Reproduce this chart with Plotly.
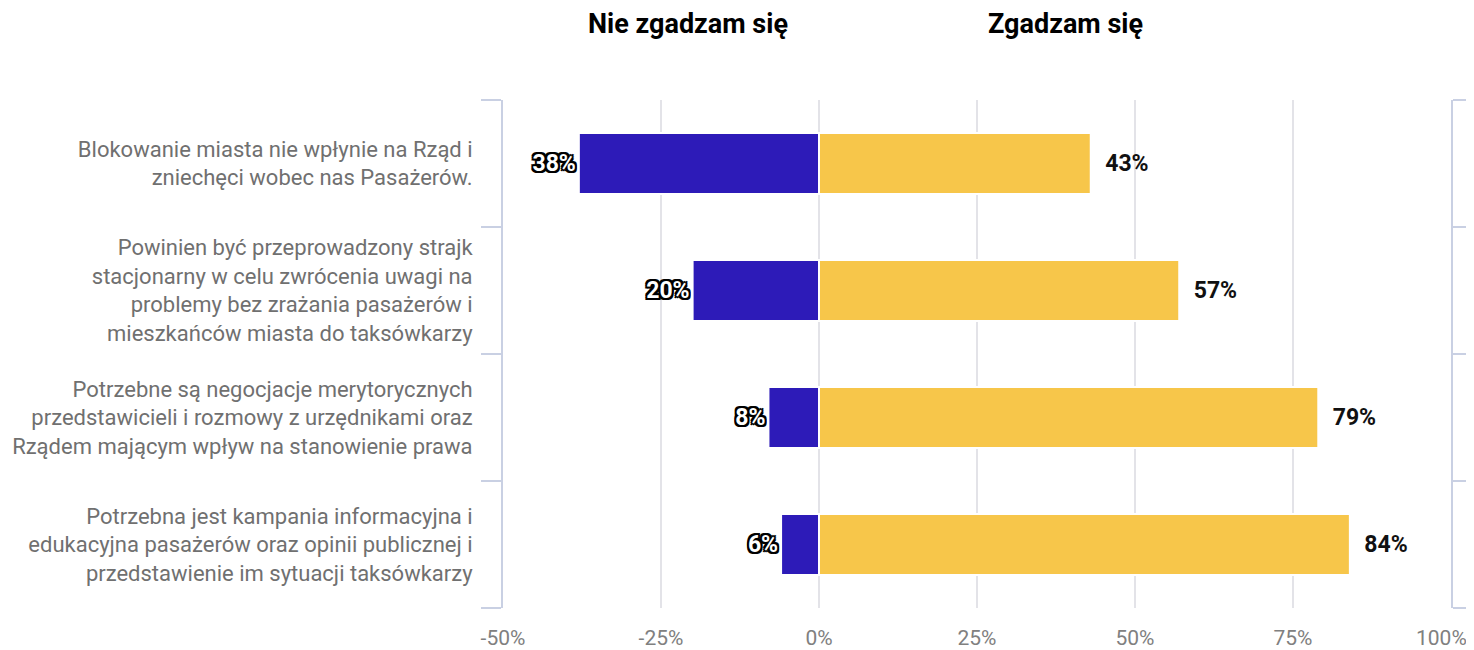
import plotly.graph_objects as go

categories = [
    "Blokowanie miasta nie wpłynie na Rząd i<br>zniechęci wobec nas Pasażerów.",
    "Powinien być przeprowadzony strajk<br>stacjonarny w celu zwrócenia uwagi na<br>problemy bez zrażania pasażerów i<br>mieszkańców miasta do taksówkarzy",
    "Potrzebne są negocjacje merytorycznych<br>przedstawicieli i rozmowy z urzędnikami oraz<br>Rządem mającym wpływ na stanowienie prawa",
    "Potrzebna jest kampania informacyjna i<br>edukacyjna pasażerów oraz opinii publicznej i<br>przedstawienie im sytuacji taksówkarzy",
]
disagree = [-38, -20, -8, -6]
agree = [43, 57, 79, 84]
tick_vals = [-50, -25, 0, 25, 50, 75, 100]
tick_text = ["-50%", "-25%", "0%", "25%", "50%", "75%", "100%"]
header_left = "Nie zgadzam się"
header_right = "Zgadzam się"

FONT = "Roboto"
o = "2px"
outline = ", ".join(f"{a} {b} 0 #000" for a, b in [
    (o, o), ("-" + o, "-" + o), (o, "-" + o), ("-" + o, o),
    ("0", o), ("0", "-" + o), (o, "0"), ("-" + o, "0")])

# the last tick label is drawn as a right-anchored annotation so it stays inside the page
tick_display = tick_text[:-1] + [""]

fig = go.Figure()
fig.add_trace(go.Bar(
    y=categories, x=disagree, orientation="h",
    marker=dict(color="#2d1bb8", line=dict(color="white", width=2)),
    text=[f"{abs(v)}%" for v in disagree], textposition="outside",
    textfont=dict(family=FONT, size=23, color="white", weight="bold", shadow=outline),
    cliponaxis=False, width=0.48, hoverinfo="skip",
))
fig.add_trace(go.Bar(
    y=categories, x=agree, orientation="h",
    marker=dict(color="#f7c64a", line=dict(color="white", width=2)),
    text=[f"{v}%" for v in agree], texttemplate="  %{text}", textposition="outside",
    textfont=dict(family=FONT, size=23, color="#111", weight="bold"),
    cliponaxis=False, width=0.48, hoverinfo="skip",
))

# the page body adds an 8px offset, so the figure is 8px smaller and margins shifted
fig.update_layout(
    width=1466, height=642,
    barmode="relative", showlegend=False,
    plot_bgcolor="white", paper_bgcolor="white",
    margin=dict(l=495, r=23, t=92, b=42, autoexpand=False),
    font=dict(family=FONT),
    annotations=[
        dict(text=f"<b>{header_left}</b>", x=0.195, y=1.15, xref="paper", yref="paper",
             xanchor="center", yanchor="middle",
             showarrow=False, font=dict(family=FONT, size=27, color="#000")),
        dict(text=f"<b>{header_right}</b>", x=0.593, y=1.15, xref="paper", yref="paper",
             xanchor="center", yanchor="middle",
             showarrow=False, font=dict(family=FONT, size=27, color="#000")),
        dict(text=tick_text[-1], x=tick_vals[-1], xref="x", y=0, yref="paper",
             xanchor="right", yanchor="middle", xshift=18, yshift=-30,
             showarrow=False, font=dict(family=FONT, size=21, color="#808080")),
    ],
)
fig.update_xaxes(
    range=[-50, 100], tickvals=tick_vals, ticktext=tick_display,
    showgrid=True, gridcolor="#e3e3e8", gridwidth=2, zeroline=False,
    tickfont=dict(family=FONT, size=21, color="#808080"), ticks="", ticklabelstandoff=15,
    automargin=False,
)
fig.update_yaxes(
    categoryorder="array", categoryarray=categories[::-1],
    showline=True, linecolor="#c9d0e3", linewidth=2, mirror="ticks",
    ticks="outside", tickson="boundaries", ticklen=20, tickcolor="#c9d0e3", tickwidth=2,
    tickfont=dict(family=FONT, size=22, color="#707070"),
    showgrid=False, ticklabelstandoff=24, automargin=False,
)
fig.write_html("out.html")
